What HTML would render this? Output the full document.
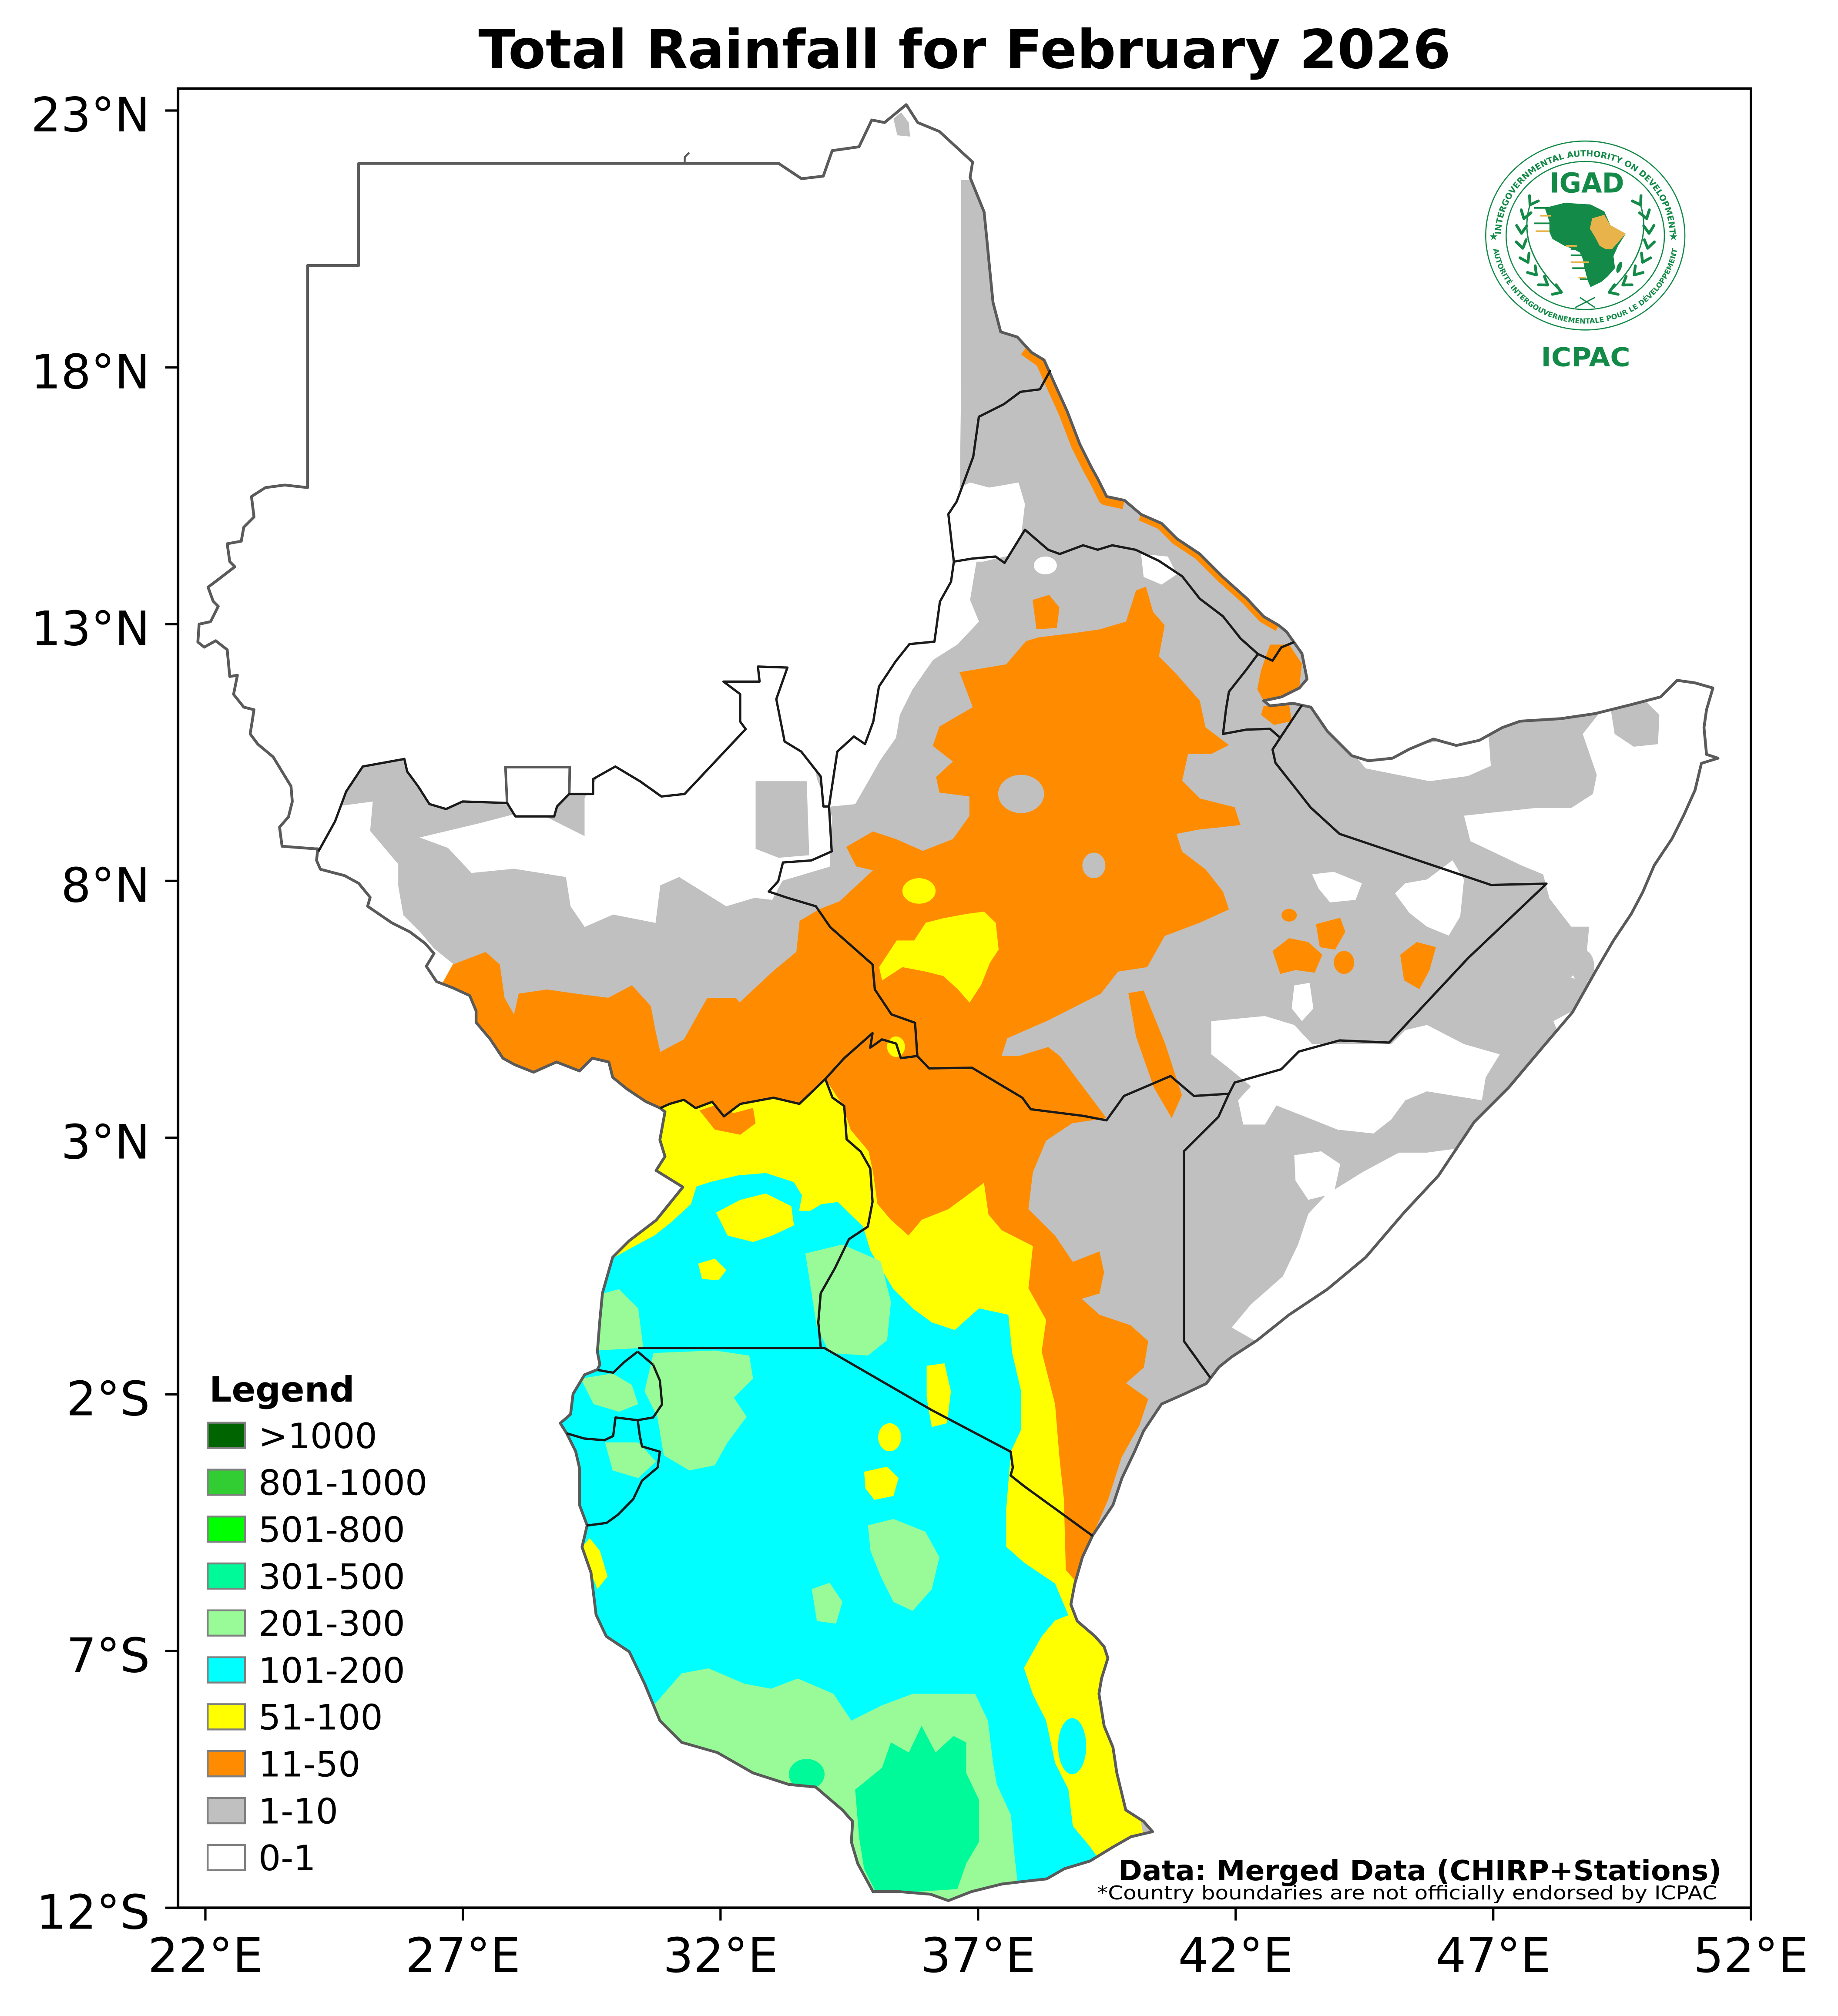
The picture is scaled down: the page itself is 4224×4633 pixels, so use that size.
<!DOCTYPE html>
<html><head><meta charset="utf-8"><style>
html,body{margin:0;padding:0;background:#fff;overflow:hidden}
svg{display:block}
text{font-family:"DejaVu Sans","Liberation Sans",sans-serif}
</style></head><body>
<svg xmlns="http://www.w3.org/2000/svg" width="4224" height="4633" viewBox="0 0 1440 1579.4" preserveAspectRatio="none">
<defs>
<path id="landp" d="M281,128 L610,128 L628,140 L645,138 L652,118 L673,115 L683,94 L693,96 L710,82 L719,96 L736,103 L762,127 L760,139 L771,166 L773,186 L776,217 L778,237 L784,260 L797,264 L808,276 L818,282 L826,300 L836,322 L846,348 L855,366 L860,375 L867,389 L881,392 L894,403 L910,410 L922,422 L940,434 L958,452 L977,469 L990,483 L1002,490 L1008,495 L1020,512 L1024,532 L1018,539 L1004,546 L990,549 L995,553 L1013,551 L1027,554 L1040,573 L1059,592 L1072,596 L1091,594 L1104,587 L1123,579 L1141,584 L1159,580 L1177,570 L1191,565 L1223,563 L1250,559 L1278,552 L1301,546 L1314,533 L1328,535 L1342,539 L1337,556 L1335,570 L1337,591 L1346,594 L1333,598 L1328,619 L1319,639 L1310,657 L1296,678 L1287,699 L1278,716 L1264,737 L1250,761 L1232,793 L1209,820 L1182,852 L1155,879 L1127,921 L1100,950 L1070,985 L1040,1010 L1010,1030 L985,1050 L965,1063 L955,1071 L945,1084 L928,1092 L910,1100 L896,1121 L889,1137 L879,1158 L872,1179 L856,1203 L848,1220 L842,1241 L839,1257 L844,1270 L858,1282 L865,1290 L868,1299 L863,1315 L861,1327 L865,1352 L872,1369 L875,1389 L882,1418 L896,1427 L903,1435 L886,1439 L872,1447 L854,1458 L834,1464 L820,1472 L802,1474 L785,1476 L761,1482 L743,1489 L729,1484 L705,1482 L684,1482 L672,1460 L667,1443 L668,1427 L660,1418 L639,1400 L618,1398 L590,1389 L562,1373 L534,1365 L517,1348 L505,1319 L493,1294 L475,1282 L467,1265 L463,1232 L456,1212 L460,1195 L454,1179 L454,1150 L451,1137 L444,1123 L439,1115 L447,1108 L449,1092 L458,1077 L468,1073 L470,1069 L468,1059 L470,1034 L472,1013 L480,985 L493,972 L514,956 L535,930 L514,917 L521,906 L517,893 L521,871 L517,868 L506,863 L491,853 L480,844 L477,832 L464,829 L454,839 L436,832 L418,840 L403,834 L394,829 L384,814 L373,801 L373,792 L368,780 L355,774 L342,769 L334,757 L340,747 L333,739 L321,730 L307,723 L288,710 L290,703 L281,692 L270,686 L251,681 L248,674 L249,665 L247,665 L221,663 L219,648 L226,640 L229,628 L228,616 L214,593 L202,583 L196,575 L199,556 L191,554 L183,544 L186,529 L180,530 L178,509 L169,502 L160,507 L155,503 L156,489 L165,487 L171,475 L167,471 L163,460 L171,454 L184,444 L180,440 L178,426 L189,424 L191,413 L199,405 L197,389 L208,382 L223,380 L241,382 L241,208 L281,208 Z"/>
<clipPath id="landclip"><use href="#landp"/></clipPath>
<path id="ringtop" d="M1176,184.5 A66,62 0 0,1 1308,184.5"/>
<path id="ringbot" d="M1169,184.5 A73,69 0 0,0 1315,184.5"/>
</defs>
<rect x="0" y="0" width="1440" height="1579.4" fill="#ffffff"/>

<!-- MAP FILLS -->
<g clip-path="url(#landclip)">
<path fill="#c0c0c0" d="M753,141 L790,141 L1450,400 L1450,1250 L950,1520 L430,1520 L200,900 L200,690 L249.5,667 L262.5,643.5 L271.2,620.1 L284.2,600.5 L316.8,594.6 L319,604.4 L327.7,616.2 L336.4,629.9 L349.5,633.8 L362.5,627.9 L397.3,629.1 L403.8,639.6 L434.2,639.6 L436.4,631.8 L446,622 L464.7,622 L464.7,610.3 L482.1,600.5 L501.6,612.2 L518.2,624 L536.4,622 L560.3,596.6 L584.2,571.2 L579.9,565.3 L579.9,543.8 L566.8,534 L595.1,534 L593.8,522.2 L616.9,523 L608.2,547.7 L614.7,580.9 L627.7,588.8 L643,608.3 L645.1,631.8 L649.5,631.8 L656,588.8 L669,577 L677.7,582.9 L684.2,565.3 L688.6,537.9 L701.6,518.3 L712.5,504.6 L732.1,502.7 L736.4,471.3 L745.1,455.7 L747.3,440 L752,380 L753,300 Z"/>
<path fill="#c0c0c0" d="M700,93 L706,88 L712,96 L713,107 L703,106 Z"/>
<g fill="#ffffff">
<path d="M746,385 L760,378 L775,382 L798,378 L803,395 L800,420 L792,435 L770,440 L747,440 Z"/>
<path d="M747,440 L765,440 L760,470 L767,487 L750,505 L731,517 L715,540 L705,560 L702,578 L690,595 L670,630 L650,632 L656,589 L669,577 L678,583 L684,565 L689,538 L702,518 L712.5,504.6 L732,503 L736,471 L745,456 Z"/>
<path d="M200,640 L292,628 L290,651 L301,664 L312,677 L312,694 L316,717 L329,730 L340,743 L356,756 L340,800 L200,760 Z"/>
<path d="M328.8,656.1 L376.8,644.7 L410,636 L428,640 L458,655 L458,625 L470,606 L482,600 L502,612 L518,624 L536,622 L560,597 L584,571 L580,565 L580,544 L567,534 L595,534 L594,522 L617,523 L612,540 L632,560 L640,610 L652,640 L650,679 L613,690 L605,705 L591.2,703.4 L569,710 L532.1,687.1 L517.3,693.6 L513.6,723 L480.3,716.5 L458.1,726.2 L447,710 L443.4,687.1 L402.7,680.6 L369.4,683.9 L351,664.3 Z"/>
<ellipse cx="819" cy="443" rx="9" ry="7"/>
<path d="M894,434 L915,436 L922,450 L910,458 L896,452 Z"/>
<path d="M1240,575 L1251,607 L1248,622 L1231,633 L1203,633 L1147,639 L1152,659 L1169,667 L1192,678 L1209,685 L1214,704 L1231,726 L1245,726 L1243,748 L1231,766 L1248,770 L1245,785 L1217,800 L1222,812 L1450,700 L1450,500 L1300,500 Z"/>
<path d="M1093,700 L1101,692 L1118,689 L1138,674 L1147,689 L1144,718 L1135,733 L1118,726 L1104,715 Z"/>
<path d="M1028,685 L1045,683 L1067,692 L1062,705 L1042,707 L1033,696 Z"/>
<path d="M949,800 L991,796 L1014,803 L1028,818 L1050,818 L1090,818 L1101,807 L1118,803 L1147,818 L1175,826 L1164,844 L1161,862 L1118,855 L1101,862 L1090,877 L1076,888 L1048,885 L1028,877 L1000,866 L991,881 L974,881 L970,862 L980,851 L963,837 L949,826 Z"/>
<path d="M1014,772 L1026,770 L1029,790 L1020,800 L1012,790 Z"/>
<path d="M1118,903 L1096,903 L1068,918 L1039,936 L1025,951 L1017,975 L1005,1000 L980,1022 L965,1040 L1000,1060 L1150,950 L1140,900 Z"/>
<path d="M1014,905 L1035,902 L1050,912 L1045,935 L1025,940 L1015,925 Z"/>
<path d="M1060,590 L1100,586 L1140,578 L1166,572 L1168,600 L1150,608 L1120,612 L1090,606 L1070,602 Z"/>
</g>
<g fill="#c0c0c0">
<path d="M592,612 L632,612 L634,670 L610,672 L592,665 Z"/>
<path d="M1262,556 L1290,550 L1300,560 L1299,583 L1280,585 L1265,575 Z"/>
<ellipse cx="1240" cy="757" rx="9" ry="13"/>
</g>
<path fill="#ff8c00" d="M354.7,755.6 L380.5,745.8 L391.6,755.6 L395.3,781.7 L402.7,794.7 L406.4,778.4 L428.6,775.2 L450.8,778.4 L476.6,781.7 L495.1,771.9 L509.9,788.2 L513.6,807.8 L517.3,824.1 L535.8,814.3 L546.8,794.7 L554.2,781.7 L576.4,781.7 L579.5,785.3 L605.6,760.9 L623.9,745.7 L626.5,721.4 L642.1,712.2 L657.8,706.1 L683.9,681.8 L670.8,678.8 L663,663.5 L683.9,651.4 L702.1,657.4 L723,666.6 L746.5,657.4 L759.5,639.2 L759.5,624 L736,620.9 L733.4,608.7 L746.5,596.6 L730.8,584.4 L736,569.2 L762.1,554 L751.7,526.6 L788.2,520.5 L803.9,502.2 L814.3,499.2 L840.4,496.1 L861.3,493.1 L882.2,487 L890,462.6 L897.8,459.6 L903.4,479.4 L912.5,489.8 L908,514.2 L921.7,528.1 L940,549 L944.5,569.8 L962.8,583.7 L949,590.7 L930.8,590.7 L926.2,611.6 L940,625.5 L967.3,632.4 L971.9,646.4 L940,649.8 L921.7,653.3 L926.2,667.2 L944.5,681.1 L958.2,698.5 L962.8,712.5 L940,722.9 L912.5,733.3 L898.8,757.7 L876,761.2 L862.3,778.6 L848.6,785.5 L821.2,799.4 L789.2,813.4 L784.7,827.3 L798.4,827.3 L821.2,820.3 L830.3,827.3 L848.6,851.6 L866.9,876 L840,880 L819.6,893.6 L809.2,918.4 L805.7,947.3 L826.6,968 L840.5,988.6 L861.4,980.4 L865,996.9 L861.4,1013.4 L847.5,1017.5 L861.4,1030 L885.7,1038.2 L899.6,1050.6 L896.2,1071.3 L882.2,1083.6 L899.6,1096 L892.7,1116.7 L878.8,1141.5 L868.3,1174.5 L856,1203 L850,1220 L842,1238 L835,1230 L833.5,1174.5 L830,1141.5 L826.6,1100.2 L816.1,1058.9 L819.6,1034.1 L805.7,1009.3 L809.2,976.2 L784.8,963.8 L774.4,951.4 L770.9,926.7 L743.1,947.3 L722.2,955.6 L711.8,968 L697.9,955.6 L687.4,943.2 L684,918.4 L680.5,901.9 L666.5,885.3 L659.6,864.7 L646.6,845.3 L626.3,864.8 L606,860 L580.1,864.8 L567.2,874.6 L558,863.2 L545,868.1 L535.8,861.6 L524.7,864.8 L517.3,868.1 L480,880 L330,800 Z"/>
<g fill="#ff8c00">
<path d="M809,470 L822,466 L830,476 L828,492 L812,493 Z"/>
<path d="M997,745 L1010,735 L1025,738 L1036,748 L1030,762 L1015,760 L1003,763 Z"/>
<path d="M1031,724 L1050,719 L1054,730 L1046,744 L1034,742 Z"/>
<ellipse cx="1053" cy="754" rx="8" ry="9"/>
<path d="M1097,748 L1110,738 L1125,742 L1120,760 L1112,775 L1100,768 Z"/>
<ellipse cx="1010" cy="717" rx="6" ry="5"/>
<path d="M884,778 L896,776 L913,818 L926,858 L918,876 L904,852 L890,812 Z"/>
<path d="M995,505 L1010,505 L1020,520 L1018,538 L1004,546 L990,549 L985,540 L988,525 Z"/>
<path d="M990,553 L1010,552 L1012,565 L998,568 L988,560 Z"/>
</g>
<path fill="none" stroke="#ff8c00" stroke-width="14" stroke-linejoin="round" d="M804,272 L818,282 L826,300 L836,322 L846,348 L855,366 L860,375 L867,389 L881,392"/>
<path fill="none" stroke="#ff8c00" stroke-width="10" stroke-linejoin="round" d="M894,403 L910,410 L922,422 L940,434 L958,452 L977,469 L990,483 L1002,490"/>
<g fill="#c0c0c0">
<ellipse cx="857" cy="678" rx="9" ry="10"/>
<ellipse cx="800" cy="622" rx="18" ry="15"/>
</g>
<g fill="#ffff00">
<path d="M725.3,722.9 L739,719.4 L757.3,716 L771,714.2 L780.1,722.9 L782.4,743.9 L775.6,754.2 L768.7,771.6 L759.6,785.5 L750.4,775 L739,764.6 L725.3,761.2 L707,757.7 L691.1,768.1 L688.8,757.7 L702.5,736.8 L716.2,736.8 Z"/>
<ellipse cx="720" cy="698" rx="13" ry="10"/>
<ellipse cx="702" cy="820" rx="7" ry="8"/>
</g>
<path fill="#ffff00" d="M517.3,868.1 L524.7,864.8 L535.8,861.6 L545,868.1 L558,863.2 L567.2,874.6 L580.1,864.8 L606,860 L626.3,864.8 L646.6,845.3 L655,858 L659.6,864.7 L666.5,885.3 L680.5,901.9 L684,918.4 L687.4,943.2 L697.9,955.6 L711.8,968 L722.2,955.6 L743.1,947.3 L770.9,926.7 L774.4,951.4 L784.8,963.8 L809.2,976.2 L805.7,1009.3 L819.6,1034.1 L816.1,1058.9 L826.6,1100.2 L830,1141.5 L833.5,1174.5 L835,1230 L842,1238 L870,1300 L900,1460 L700,1500 L420,1500 L420,900 Z"/>
<path fill="#ff8c00" d="M548,870 L560,866 L575,872 L590,868 L592,880 L580,889 L560,885 Z"/>
<path fill="#00ffff" d="M420,1000 L476,988 L493.5,978.2 L513.1,967.7 L526.1,957.3 L541.3,943.4 L545.7,929.5 L556.5,926 L578.3,920.8 L600,919 L621.8,926 L628.3,936.4 L626.1,948.6 L634.8,948.6 L643.5,943.4 L656.5,941.7 L665.3,950.4 L676.1,960.8 L682,980 L700,1010 L715,1025 L730,1036 L748,1042 L767,1025 L790,1030 L793,1060 L800,1090 L800,1120 L792,1137 L788.3,1182.8 L788.3,1211.7 L802.2,1224.1 L826.6,1240.6 L837,1265.4 L826.6,1269.5 L816.1,1282 L802.2,1306.7 L809.2,1327.4 L819.6,1348 L826.6,1381.1 L837,1401.7 L840.5,1430.6 L854.4,1447.2 L870,1470 L700,1510 L420,1510 Z"/>
<ellipse fill="#00ffff" cx="840" cy="1368" rx="11" ry="22"/>
<g fill="#ffff00">
<path d="M561,950 L580,940 L600,935 L620,945 L622,960 L605,968 L590,973 L570,968 Z"/>
<path d="M547,990 L560,986 L569,995 L563,1003 L550,1002 Z"/>
<ellipse cx="697" cy="1126" rx="9" ry="11"/>
<path d="M677,1153 L695,1149 L704,1158 L700,1172 L685,1175 L678,1166 Z"/>
<path d="M726,1070 L740,1068 L745,1090 L742,1115 L730,1118 L726,1095 Z"/>
<path d="M456,1212 L462,1205 L470,1215 L476,1235 L468,1245 L463,1232 Z"/>
</g>
<g fill="#98fb98">
<path d="M466,1015 L485,1010 L500,1025 L504,1056 L468,1058 Z"/>
<path d="M631,982 L660,975 L690,988 L698,1020 L695,1050 L680,1062 L650,1060 L640,1040 Z"/>
<path d="M512,1060 L560,1058 L587,1062 L590,1080 L575,1095 L585,1110 L570,1130 L560,1148 L540,1152 L520,1140 L515,1110 L505,1090 Z"/>
<path d="M455,1080 L480,1076 L495,1085 L500,1100 L485,1106 L465,1100 Z"/>
<path d="M474,1130 L500,1130 L514,1145 L500,1158 L480,1152 Z"/>
<path d="M680,1195 L700,1190 L725,1200 L736,1220 L730,1245 L715,1262 L700,1255 L690,1235 L682,1215 Z"/>
<path d="M636,1245 L650,1240 L660,1255 L655,1272 L640,1270 Z"/>
<path d="M500,1360 L505,1319 L513,1335 L534,1311 L555,1307 L583,1319 L604,1323 L625,1315 L653,1327 L667,1348 L691,1336 L715,1327 L740,1327 L764,1327 L774,1348 L778,1381 L781,1398 L792,1422 L795,1455 L800,1500 L690,1500 L600,1430 Z"/>
</g>
<g fill="#00fa9a">
<path d="M670,1402 L691,1385 L698,1365 L712,1373 L722,1352 L733,1373 L747,1360 L757,1365 L757,1389 L767,1410 L767,1443 L757,1460 L750,1480 L687,1484 L677,1464 L673,1439 Z"/>
<ellipse cx="632" cy="1390" rx="14" ry="12"/>
</g>
</g>

<use href="#landp" fill="none" stroke="#5a5a5a" stroke-width="2.2" stroke-linejoin="round"/>
<path fill="none" stroke="#5a5a5a" stroke-width="2" d="M397.3,629.1 L396,601 L446.4,601 L446,622"/>
<path fill="none" stroke="#5a5a5a" stroke-width="1.5" d="M536.4,128 L536.5,123 L540,119.5"/>

<g fill="none" stroke="#1a1a1a" stroke-width="1.8" stroke-linejoin="round">
<path d="M249.5,667 L262.5,643.5 L271.2,620.1 L284.2,600.5 L316.8,594.6 L319,604.4 L327.7,616.2 L336.4,629.9 L349.5,633.8 L362.5,627.9 L397.3,629.1 L403.8,639.6 L434.2,639.6 L436.4,631.8 L446,622 L464.7,622 L464.7,610.3 L482.1,600.5 L501.6,612.2 L518.2,624 L536.4,622 L560.3,596.6 L584.2,571.2 L579.9,565.3 L579.9,543.8 L566.8,534 L595.1,534 L593.8,522.2 L616.9,523 L608.2,547.7 L614.7,580.9 L627.7,588.8 L643,608.3 L645.1,631.8 L649.5,631.8"/>
<path d="M649.5,631.8 L656,588.8 L669,577 L677.7,582.9 L684.2,565.3 L688.6,537.9 L701.6,518.3 L712.5,504.6 L732.1,502.7 L736.4,471.3 L745.1,455.7 L747.3,440"/>
<path d="M747.3,440 L743,402.8 L749.5,393 L762.5,357.8 L766.9,326.5 L786.4,316.7 L799.5,307 L814.7,305 L823,290"/>
<path d="M747.3,440 L761.9,437.6 L780,436 L787,441 L803,415 L821.2,430.7 L830.3,434 L848.6,427.2 L860,430.7 L871.4,427.2 L889.7,430.7 L908,439.4 L926.2,451.5 L939.9,469 L958.2,482.9 L971.9,500.2 L985.6,512.4 L997,517.6 L1003.8,507.2 L1014,503"/>
<path d="M985.6,512.4 L976.5,524.6 L962.8,542 L960.5,555.9 L958.2,575 L976.5,571.6 L995,571 L1003,578"/>
<path d="M1020,552.4 L1003,578 L997,587.2 L999.3,597.7 L1013,615 L1026.7,632.5 L1049.5,653.3 L1168.2,693.3 L1211.6,692.3 L1150,750.8 L1088.3,816.8 L1049.5,815.1 L1017.6,823.8 L1003.8,837.7 L967.3,848.1 L962.8,856.9"/>
<path d="M718.7,827.3 L727.9,837 L761.5,836.5 L801,860 L807.5,869 L848.6,874.2 L866.9,877.7 L880.6,858.6 L917.1,843 L935.4,858.6 L962.8,856.9"/>
<path d="M962.8,856.9 L954.6,875 L927.5,902 L927.5,1050.6 L948.3,1079.5"/>
<path d="M649.5,631.8 L651.6,667 L635.6,674.1 L613.4,675.7 L609.7,690.4 L602.3,698.5 L617.1,703.4 L639.2,710 L650.4,726.3 L665.1,739.3 L683.6,755.6 L685.4,775.2 L698.4,794.7 L716.9,801.3 L718.7,827.3 L705.8,829 L702.1,817.6 L691,814.3 L681.8,820.8 L683.6,809.4 L661.4,829 L646.6,845.3"/>
<path d="M646.6,845.3 L626.3,864.8 L606,860 L580.1,864.8 L567.2,874.6 L558,863.2 L545,868.1 L535.8,861.6 L524.7,864.8 L517.3,868.1"/>
<path d="M646.6,845.3 L652.2,859.9 L661.4,866.5 L663.3,892.6 L674.4,902.3 L681.8,915.4 L683.6,941.5 L679.9,961 L665.1,970.8 L654.1,993.6 L643,1013.2 L641.1,1036 L643,1055.6"/>
<path d="M500,1056 L645.7,1056 L729.2,1104.3 L791.8,1137.3 L793.5,1149.7 L791.8,1155.9 L802.2,1164.2 L856.2,1203.4"/>
<path d="M499.6,1058.9 L489.1,1067.1 L480.4,1075.4 L468.2,1073.3 M511.7,1069.2 L499.6,1058.9 M511.7,1069.2 L517,1081.6 L518.7,1100.2 L511.7,1110.5 L499.6,1112.6 L482.2,1110.5 L480.4,1125 L473.5,1128.3 L457.8,1127 L443.9,1122.9"/>
<path d="M499.6,1112.6 L501.3,1125 L503,1133.2 L517,1137.3 L515.2,1149.7 L503,1160 L496.1,1174.5 L483.9,1186.9 L475.2,1193.1 L459.5,1195.2"/>
</g>

<rect x="139.5" y="69.4" width="1232.3" height="1425.2" fill="none" stroke="#000" stroke-width="2"/>
<g stroke="#000" stroke-width="1.8">
<line x1="129.5" y1="86.6" x2="139.5" y2="86.6"/>
<line x1="129.5" y1="287.8" x2="139.5" y2="287.8"/>
<line x1="129.5" y1="489" x2="139.5" y2="489"/>
<line x1="129.5" y1="690.1" x2="139.5" y2="690.1"/>
<line x1="129.5" y1="891.3" x2="139.5" y2="891.3"/>
<line x1="129.5" y1="1092.4" x2="139.5" y2="1092.4"/>
<line x1="129.5" y1="1293.5" x2="139.5" y2="1293.5"/>
<line x1="129.5" y1="1494.6" x2="139.5" y2="1494.6"/>
<line x1="160.9" y1="1494.6" x2="160.9" y2="1504.6"/>
<line x1="362.7" y1="1494.6" x2="362.7" y2="1504.6"/>
<line x1="564.5" y1="1494.6" x2="564.5" y2="1504.6"/>
<line x1="766.3" y1="1494.6" x2="766.3" y2="1504.6"/>
<line x1="968.1" y1="1494.6" x2="968.1" y2="1504.6"/>
<line x1="1169.9" y1="1494.6" x2="1169.9" y2="1504.6"/>
<line x1="1371.7" y1="1494.6" x2="1371.7" y2="1504.6"/>
</g>
<g font-size="37" fill="#000" text-anchor="end">
<text x="117.5" y="103">23°N</text>
<text x="117.5" y="304.2">18°N</text>
<text x="117.5" y="505.4">13°N</text>
<text x="117.5" y="706.5">8°N</text>
<text x="117.5" y="907.7">3°N</text>
<text x="117.5" y="1108.8">2°S</text>
<text x="117.5" y="1309.9">7°S</text>
<text x="117.5" y="1511">12°S</text>
</g>
<g font-size="37.5" fill="#000" text-anchor="middle">
<text x="160.9" y="1545">22°E</text>
<text x="362.7" y="1545">27°E</text>
<text x="564.5" y="1545">32°E</text>
<text x="766.3" y="1545">37°E</text>
<text x="968.1" y="1545">42°E</text>
<text x="1169.9" y="1545">47°E</text>
<text x="1371.7" y="1545">52°E</text>
</g>

<text x="755.7" y="53.3" font-size="42" font-weight="bold" text-anchor="middle" textLength="761.8" lengthAdjust="spacingAndGlyphs">Total Rainfall for February 2026</text>

<text x="164" y="1098" font-size="27.5" font-weight="bold">Legend</text>
<g stroke="#808080" stroke-width="1.5">
<rect x="162.7" y="1114.6" width="29.3" height="19.8" fill="#006400"/>
<rect x="162.7" y="1151.35" width="29.3" height="19.8" fill="#32cd32"/>
<rect x="162.7" y="1188.1" width="29.3" height="19.8" fill="#00ff00"/>
<rect x="162.7" y="1224.85" width="29.3" height="19.8" fill="#00fa9a"/>
<rect x="162.7" y="1261.6" width="29.3" height="19.8" fill="#98fb98"/>
<rect x="162.7" y="1298.35" width="29.3" height="19.8" fill="#00ffff"/>
<rect x="162.7" y="1335.1" width="29.3" height="19.8" fill="#ffff00"/>
<rect x="162.7" y="1371.85" width="29.3" height="19.8" fill="#ff8c00"/>
<rect x="162.7" y="1408.6" width="29.3" height="19.8" fill="#c0c0c0"/>
<rect x="162.7" y="1445.35" width="29.3" height="19.8" fill="#ffffff"/>
</g>
<g font-size="27.5" fill="#000">
<text x="202.5" y="1134.5">&gt;1000</text>
<text x="202.5" y="1171.25">801-1000</text>
<text x="202.5" y="1208">501-800</text>
<text x="202.5" y="1244.75">301-500</text>
<text x="202.5" y="1281.5">201-300</text>
<text x="202.5" y="1318.25">101-200</text>
<text x="202.5" y="1355">51-100</text>
<text x="202.5" y="1391.75">11-50</text>
<text x="202.5" y="1428.5">1-10</text>
<text x="202.5" y="1465.25">0-1</text>
</g>

<text x="1348.8" y="1473" font-size="22" font-weight="bold" text-anchor="end" textLength="472.7" lengthAdjust="spacingAndGlyphs">Data: Merged Data (CHIRP+Stations)</text>
<text x="1345.5" y="1488" font-size="15" text-anchor="end" textLength="486" lengthAdjust="spacingAndGlyphs">*Country boundaries are not officially endorsed by ICPAC</text>

<g>
<ellipse cx="1242" cy="184.5" rx="78" ry="74" fill="none" stroke="#148a48" stroke-width="0.9"/>
<ellipse cx="1242" cy="184.5" rx="62" ry="58" fill="none" stroke="#148a48" stroke-width="0.9"/>
<text font-size="6.6" font-weight="bold" fill="#148a48" text-anchor="middle"><textPath href="#ringtop" startOffset="50%">INTERGOVERNMENTAL AUTHORITY ON DEVELOPMENT</textPath></text>
<text font-size="5.6" font-weight="bold" fill="#148a48" text-anchor="middle"><textPath href="#ringbot" startOffset="50%">AUTORITÉ INTERGOUVERNEMENTALE POUR LE DÉVELOPPEMENT</textPath></text>
<text x="1170.2" y="188" font-size="8" fill="#148a48" text-anchor="middle">★</text>
<text x="1311" y="188" font-size="8" fill="#148a48" text-anchor="middle">★</text>
<text x="1243.2" y="150.8" font-size="21.5" font-weight="bold" fill="#148a48" text-anchor="middle" textLength="58.6" lengthAdjust="spacingAndGlyphs">IGAD</text>
<path fill="#148a48" d="M1210.3,162.9 L1225.8,158.9 L1246.1,160.2 L1256.9,165.6 L1261.7,176.4 L1273.7,183.1 L1267.7,192.6 L1264.1,200.6 L1265.3,210.1 L1259.3,216.8 L1254.5,220.9 L1246.1,224.9 L1243.8,219.5 L1241.4,210.1 L1240.2,203.3 L1237.8,197.9 L1233,195.3 L1225.8,192.6 L1216.3,187.2 L1213.9,181.8 L1213.9,173.7 Z"/>
<path fill="#e8b34b" d="M1247.4,171 L1256.9,168.3 L1261.7,176.4 L1273.7,183.1 L1267.7,189.9 L1262.9,195.3 L1258.1,195.3 L1253.3,192.6 L1249.7,185.8 L1245.6,179.1 Z"/>
<ellipse cx="1268.6" cy="209.4" rx="1.8" ry="4.6" fill="#148a48" transform="rotate(20 1268.6 209.4)"/>
<g stroke-width="1.3">
<line x1="1201.9" y1="162.9" x2="1225.8" y2="162.9" stroke="#148a48"/>
<line x1="1206.7" y1="169" x2="1215" y2="169" stroke="#e8b34b"/>
<line x1="1201.9" y1="175" x2="1223.4" y2="175" stroke="#148a48"/>
<line x1="1203.1" y1="181.1" x2="1213.9" y2="181.1" stroke="#e8b34b"/>
<line x1="1227" y1="192.6" x2="1235.4" y2="192.6" stroke="#e8b34b"/>
<line x1="1230.6" y1="195.3" x2="1243.8" y2="195.3" stroke="#148a48"/>
<line x1="1230.6" y1="200" x2="1247.3" y2="200" stroke="#148a48"/>
<line x1="1230.6" y1="205.4" x2="1245" y2="205.4" stroke="#e8b34b"/>
<line x1="1231.8" y1="210.1" x2="1246.1" y2="210.1" stroke="#148a48"/>
<line x1="1236.6" y1="217.5" x2="1242.6" y2="217.5" stroke="#e8b34b"/>
<line x1="1237.8" y1="218.8" x2="1249.7" y2="218.8" stroke="#148a48"/>
</g>
<g fill="none" stroke="#148a48" stroke-width="1">
<path d="M1223.3,229 Q1188,195 1198.7,160.5"/>
<path d="M1260.7,229 Q1296,195 1285.3,160.5"/>
<path d="M1234,241 L1249.7,233 M1237.8,233 L1249.7,241"/>
</g>
<g fill="none" stroke="#148a48" stroke-width="2.2" stroke-linecap="round" stroke-linejoin="round">
<path d="M6,-4 L0,0 L6,4" transform="translate(1198.7,160.5) rotate(-59)"/>
<path d="M6,-4 L0,0 L6,4" transform="translate(1193.9,171.3) rotate(-73.3)"/>
<path d="M6,-4 L0,0 L6,4" transform="translate(1192,182.8) rotate(-88)"/>
<path d="M6,-4 L0,0 L6,4" transform="translate(1193.1,194.5) rotate(-102.5)"/>
<path d="M6,-4 L0,0 L6,4" transform="translate(1197.1,205.5) rotate(-117)"/>
<path d="M6,-4 L0,0 L6,4" transform="translate(1203.7,215.4) rotate(-131)"/>
<path d="M6,-4 L0,0 L6,4" transform="translate(1212.6,223.3) rotate(-145)"/>
<path d="M6,-4 L0,0 L6,4" transform="translate(1223.3,229) rotate(-159)"/>
<path d="M6,-4 L0,0 L6,4" transform="translate(1285.3,160.5) rotate(-121)"/>
<path d="M6,-4 L0,0 L6,4" transform="translate(1290.1,171.3) rotate(-106.7)"/>
<path d="M6,-4 L0,0 L6,4" transform="translate(1292,182.8) rotate(-92)"/>
<path d="M6,-4 L0,0 L6,4" transform="translate(1290.9,194.5) rotate(-77.5)"/>
<path d="M6,-4 L0,0 L6,4" transform="translate(1286.9,205.5) rotate(-63)"/>
<path d="M6,-4 L0,0 L6,4" transform="translate(1280.3,215.4) rotate(-49)"/>
<path d="M6,-4 L0,0 L6,4" transform="translate(1271.4,223.3) rotate(-35)"/>
<path d="M6,-4 L0,0 L6,4" transform="translate(1260.7,229) rotate(-21)"/>
</g>
<text x="1242.3" y="286.9" font-size="20.5" font-weight="bold" fill="#148a48" text-anchor="middle" textLength="69.9" lengthAdjust="spacingAndGlyphs">ICPAC</text>
</g>
</svg>
</body></html>
